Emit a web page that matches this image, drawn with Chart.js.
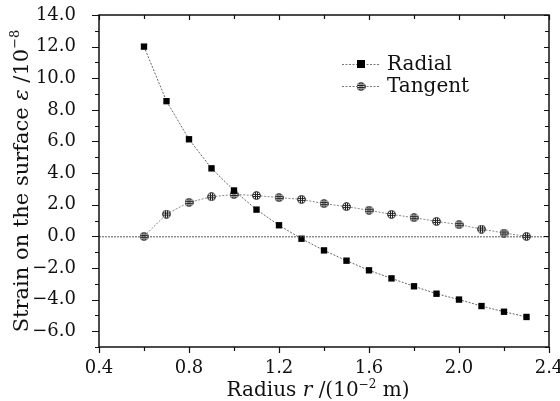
<!DOCTYPE html>
<html><head><meta charset="utf-8">
<script src="https://cdn.jsdelivr.net/npm/chart.js@4.4.0/dist/chart.umd.min.js"></script>
<style>html,body{margin:0;padding:0;background:#fff}#wrap{width:560px;height:401px}</style>
</head><body><div id="wrap"><canvas id="c" width="560" height="401"></canvas></div>
<script>
const radius = [0.6,0.7,0.8,0.9,1.0,1.1,1.2,1.3,1.4,1.5,1.6,1.7,1.8,1.9,2.0,2.1,2.2,2.3];
const radial = [12.0,8.55,6.14,4.30,2.90,1.69,0.70,-0.15,-0.89,-1.54,-2.15,-2.66,-3.16,-3.63,-4.00,-4.41,-4.77,-5.10];
const tangent = [0.0,1.41,2.15,2.50,2.65,2.58,2.45,2.34,2.07,1.88,1.65,1.39,1.18,0.95,0.74,0.46,0.21,0.0];
const seriesNames = ['Radial','Tangent'];
const xTickLabels = [0.4,0.8,1.2,1.6,2.0,2.4];
const yTickLabels = [-6,-4,-2,0,2,4,6,8,10,12,14];
const xTitleParts = [['Radius ','n'],['r','i'],[' /(10','n'],['\u22122','s'],[' m)','n']];
const yTitleParts = [['Strain on the surface ','n'],['\u03b5','i'],[' /10','n'],['\u22128','s']];

const FONT = '"DejaVu Serif", "Liberation Serif", serif';

function hatchMarker(){
  const cv = document.createElement('canvas'); cv.width = 9; cv.height = 9;
  const g = cv.getContext('2d');
  g.beginPath(); g.arc(4.5,4.5,3.8,0,Math.PI*2); g.fillStyle='#fff'; g.fill();
  g.save(); g.clip();
  g.fillStyle='#222';
  for (const p of [3,5]) { g.fillRect(0,p,9,1); g.fillRect(p,0,1,9); }
  g.restore();
  g.beginPath(); g.arc(4.5,4.5,3.8,0,Math.PI*2); g.strokeStyle='#222'; g.lineWidth=1.1; g.stroke();
  return cv;
}
const tanMarker = hatchMarker();

function fontFor(k, size){
  return k==='s' ? `${Math.round(size*0.62)}px ${FONT}` : `${k==='i'?'italic ':''}${size}px ${FONT}`;
}
function drawParts(g, parts, size){
  let x = 0;
  for (const [t, k] of parts) {
    g.font = fontFor(k, size);
    g.fillText(t, x, k==='s' ? -size*0.42 : 0);
    x += g.measureText(t).width;
  }
  return x;
}
function measureParts(g, parts, size){
  let w = 0;
  for (const [t, k] of parts) { g.font = fontFor(k, size); w += g.measureText(t).width; }
  return w;
}

const framePlugin = {
  id: 'frame',
  afterDraw(chart){
    const g = chart.ctx, a = chart.chartArea, xs = chart.scales.x, ys = chart.scales.y;
    g.save();
    const y0 = ys.getPixelForValue(0);
    g.strokeStyle = '#555'; g.lineWidth = 1; g.setLineDash([2,1]);
    g.beginPath(); g.moveTo(a.left, y0+0.5); g.lineTo(a.right, y0+0.5); g.stroke();
    g.setLineDash([]);
    g.strokeStyle = '#111'; g.lineWidth = 1.5;
    g.strokeRect(a.left, a.top, a.right-a.left, a.bottom-a.top);
    g.lineWidth = 1.2;
    g.beginPath();
    for (let v = -7; v <= 14; v++) {
      const y = Math.round(ys.getPixelForValue(v))+0.5;
      const major = v % 2 === 0;
      g.moveTo(a.left - (major ? 7 : 4), y); g.lineTo(a.left, y);
      g.moveTo(a.right, y); g.lineTo(a.right - (major?5:4), y);
    }
    for (let i = 0; i <= 10; i++) {
      const v = 0.4 + i*0.2;
      const x = Math.round(xs.getPixelForValue(v))+0.5;
      const major = i % 2 === 0;
      g.moveTo(x, a.bottom); g.lineTo(x, a.bottom + (major?6:4));
      g.moveTo(x, a.top); g.lineTo(x, a.top + (major?5:4));
    }
    g.stroke();
    g.fillStyle = '#111'; g.textBaseline = 'alphabetic'; g.textAlign = 'left';
    const tsx = 20, tsy = 21;
    const wx = measureParts(g, xTitleParts, tsx);
    g.save(); g.translate(318 - wx/2, 396); drawParts(g, xTitleParts, tsx); g.restore();
    const wy = measureParts(g, yTitleParts, tsy);
    g.save(); g.translate(28, 181 + wy/2); g.rotate(-Math.PI/2); drawParts(g, yTitleParts, tsy); g.restore();
    const ls = [64, 86];
    chart.data.datasets.forEach((ds, i) => {
      const y = ls[i];
      g.strokeStyle = '#777'; g.lineWidth = 1; g.setLineDash([2,1.5]);
      g.beginPath(); g.moveTo(342, y+0.5); g.lineTo(380, y+0.5); g.stroke(); g.setLineDash([]);
      if (i === 0) { g.fillStyle = '#000'; g.fillRect(357, y-4, 8, 8); }
      else { g.drawImage(tanMarker, 361-4.5, y-4); }
      g.fillStyle = '#111'; g.font = `20px ${FONT}`; g.textBaseline = 'middle';
      g.fillText(ds.label, 387, y+1);
    });
    g.restore();
  }
};

new Chart(document.getElementById('c'), {
  type: 'scatter',
  data: {
    datasets: [
      { label: seriesNames[0], data: radius.map((x,i)=>({x, y: radial[i]})), showLine: true,
        borderColor: '#666', borderWidth: 1, borderDash: [2,1.5],
        pointStyle: 'rect', pointRadius: 4.5, pointBackgroundColor: '#000', pointBorderColor: '#000', pointBorderWidth: 0 },
      { label: seriesNames[1], data: radius.map((x,i)=>({x, y: tangent[i]})), showLine: true,
        borderColor: '#888', borderWidth: 1, borderDash: [2,1.5],
        pointStyle: tanMarker, pointRadius: 4.5 }
    ]
  },
  options: {
    responsive: false, animation: false, devicePixelRatio: 1,
    layout: { padding: { top: 15, right: 11, left: 0, bottom: 0 } },
    plugins: { legend: { display: false }, tooltip: { enabled: false } },
    scales: {
      x: {
        type: 'linear', min: 0.4, max: 2.4,
        afterBuildTicks(s){ s.ticks = xTickLabels.map(v => ({value: v})); },
        afterFit(s){ s.height = 54; s.paddingLeft = 0; s.paddingRight = 0; },
        grid: { display: false }, border: { display: false },
        ticks: { color: '#111', font: { family: FONT, size: 18 }, padding: 3, maxRotation: 0,
          callback: v => Number(v).toFixed(1) }
      },
      y: {
        type: 'linear', min: -7, max: 14,
        afterBuildTicks(s){ s.ticks = yTickLabels.map(v => ({value: v})); },
        afterFit(s){ s.width = 99; s.paddingTop = 0; s.paddingBottom = 0; },
        grid: { display: false }, border: { display: false },
        ticks: { color: '#111', font: { family: FONT, size: 18 }, padding: 15,
          callback: v => (v < 0 ? '\u2212' + Math.abs(v).toFixed(1) : Number(v).toFixed(1)) }
      }
    }
  },
  plugins: [framePlugin]
});
</script></body></html>
